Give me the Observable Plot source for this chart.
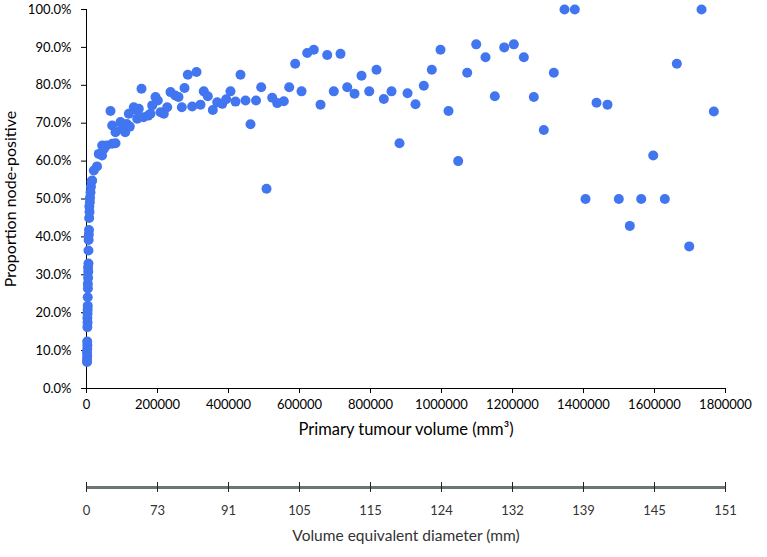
<!DOCTYPE html>
<html><head><meta charset="utf-8">
<script src="https://cdn.jsdelivr.net/npm/d3@7"></script>
<script src="https://cdn.jsdelivr.net/npm/@observablehq/plot@0.6"></script>
<style>body{margin:0;background:#fff;font-family:Lato,sans-serif} svg{display:block}</style>
</head><body><div id="chart"></div>
<script>
// Primary tumour volume (mm^3)
const volume = [
  1500,1800,2000,1500,2200,2500,2000,2500,3000,2500,3000,3200,3500,3500,4000,3800,4500,5000,4500,5500,
  5500,6000,6500,7000,7500,8500,8000,9500,10000,12500,14000,
  11300,16000,20600,29600,34600,43700,44200,48700,56300,72400,81700,67600,72400,81700,95800,99400,105000,109000,113500,
  122000,119200,133200,141700,142800,147300,154900,160600,173800,180300,185100,194400,200800,208500,217800,227300,236600,249900,259200,268500,
  276100,285400,297700,309900,321100,330400,341700,355800,368200,382300,393500,405600,419700,433800,447900,462000,477500,492100,507100,523100,
  537200,555800,571000,587900,605700,621700,640300,659200,678100,696600,715500,734400,755000,774700,796400,816900,837500,859200,881700,904300,
  926800,950200,972700,997200,1019800,1047000,1072400,1097800,1124000,1150200,1176700,1203700,1231900,1260000,1288200,1316400,1346500,1375500,1405700,1436700,
  1467600,1499500,1530500,1562600,1596400,1629100,1662900,1697800,1732500,1767200
];
// Proportion node-positive
const proportion = [
  0.070,0.078,0.086,0.095,0.104,0.114,0.124,0.162,0.174,0.186,0.198,0.208,0.218,0.241,0.264,0.276,0.292,0.308,0.319,0.330,
  0.364,0.392,0.406,0.418,0.450,0.466,0.480,0.492,0.504,0.532,0.546,
  0.518,0.549,0.575,0.586,0.619,0.615,0.641,0.632,0.641,0.646,0.647,0.732,0.694,0.676,0.703,0.685,0.689,0.676,0.698,
  0.691,0.725,0.742,0.734,0.712,0.738,0.791,0.716,0.720,0.725,0.747,0.769,0.760,0.729,0.725,0.742,0.782,0.773,0.769,0.742,
  0.793,0.828,0.744,0.835,0.749,0.784,0.771,0.735,0.755,0.751,0.763,0.784,0.757,0.828,0.760,0.697,0.760,0.795,0.527,0.767,
  0.753,0.758,0.795,0.857,0.784,0.885,0.894,0.749,0.880,0.784,0.883,0.795,0.778,0.825,0.784,0.841,0.764,0.784,0.647,0.779,
  0.750,0.799,0.841,0.894,0.732,0.600,0.833,0.908,0.874,0.771,0.900,0.908,0.874,0.769,0.682,0.833,1.000,1.000,0.500,0.754,
  0.749,0.500,0.429,0.500,0.615,0.500,0.857,0.375,1.000,0.731
];
const volumeTicks = [0,200000,400000,600000,800000,1000000,1200000,1400000,1600000,1800000];
const diameterLabels = ["0","73","91","105","115","124","132","139","145","151"];
const proportionTicks = [0,0.1,0.2,0.3,0.4,0.5,0.6,0.7,0.8,0.9,1.0];

const data = volume.map((v, i) => ({volume: v, proportion: proportion[i]}));
const font = {fontFamily: "Lato, sans-serif", fontSize: "13px", color: "#000", background: "#fff"};

const main = Plot.plot({
  width: 767, height: 445,
  marginLeft: 86, marginRight: 42, marginTop: 9, marginBottom: 57,
  style: font,
  x: {domain: [0, 1800000]},
  y: {domain: [0, 1]},
  marks: [
    Plot.axisY({ticks: proportionTicks, tickFormat: d => (d * 100).toFixed(1) + "%", tickSize: 5, tickPadding: 10, label: null}),
    Plot.axisX({ticks: volumeTicks, tickFormat: d => String(d), tickSize: 5, tickPadding: 6, label: null}),
    Plot.ruleX([0], {stroke: "#000"}),
    Plot.ruleY([0], {stroke: "#000"}),
    Plot.dot(data, {x: "volume", y: "proportion", r: 5, fill: "#4275F0", stroke: "none"}),
    Plot.text(["Primary tumour volume (mm³)"], {text: d => d, frameAnchor: "bottom", dy: 46, fontSize: 16.5}),
    Plot.text(["Proportion node-positive"], {text: d => d, frameAnchor: "left", textAnchor: "middle", dx: -76, rotate: -90, fontSize: 16})
  ]
});

const secondary = Plot.plot({
  width: 767, height: 112,
  marginLeft: 86, marginRight: 42, marginTop: 37, marginBottom: 65,
  style: font,
  x: {domain: [0, 1800000]},
  y: {domain: [0, 1], axis: null},
  marks: [
    Plot.ruleY([0.5], {stroke: "#6b7571", strokeWidth: 3}),
    Plot.tickX(volumeTicks, {x: d => d, stroke: "#222"}),
    Plot.axisX({ticks: volumeTicks, tickFormat: d => diameterLabels[volumeTicks.indexOf(d)], tickSize: 0, tickPadding: 13, label: null, color: "#333"}),
    Plot.text(["Volume equivalent diameter (mm)"], {text: d => d, frameAnchor: "bottom", dy: 48, fill: "#333", fontSize: 15.5})
  ]
});

document.getElementById("chart").append(main, secondary);
</script>
</body></html>
